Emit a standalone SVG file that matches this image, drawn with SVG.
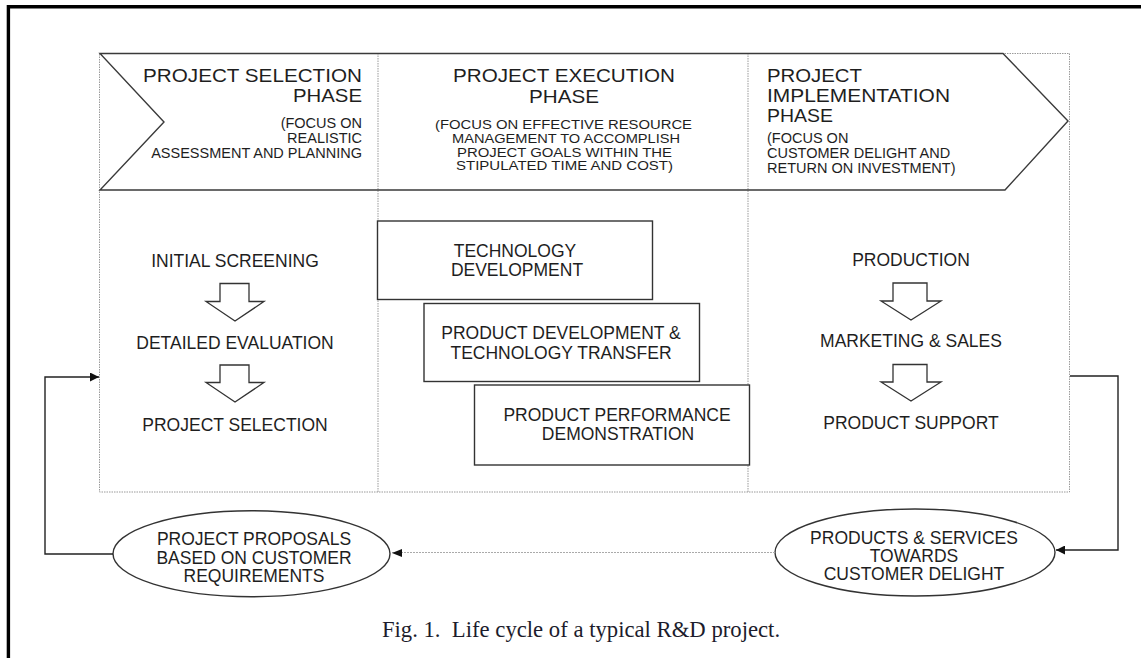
<svg xmlns="http://www.w3.org/2000/svg" width="1141" height="658" viewBox="0 0 1141 658">
<defs>
<style>
text{font-family:"Liberation Sans",Arial,sans-serif;fill:#1e1e1e}
.t{font-size:18.6px}
.s{font-size:14.5px}
.m{font-size:13.4px}
.b{font-size:17.5px}
.cap{font-family:"Liberation Serif","Times New Roman",serif;font-size:22.7px;fill:#1c1c2c}
.dot{fill:none;stroke:#9a9a9a;stroke-width:1;stroke-dasharray:1.5 1}
.box{fill:#fff;stroke:#333;stroke-width:1.4}
.blk{fill:#fff;stroke:#333;stroke-width:1.3;stroke-linejoin:miter}
.con{fill:none;stroke:#222;stroke-width:1.4}
.con2{fill:none;stroke:#aaa;stroke-width:1;stroke-dasharray:2 1}
</style>
<marker id="ah" viewBox="0 0 10 10" refX="10" refY="5" markerWidth="10" markerHeight="9" markerUnits="userSpaceOnUse" orient="auto">
<path d="M0 0 L10 5 L0 10 Z" fill="#111"/>
</marker>
</defs>
<rect width="1141" height="658" fill="#fff"/>
<path d="M8.4 658 V6.7 H1141" fill="none" stroke="#000" stroke-width="3.4"/>

<g id="frame">
<rect class="dot" x="99.5" y="53.5" width="970" height="438.5"/>
<line class="dot" x1="378" y1="53" x2="378" y2="492"/>
<line class="dot" x1="748" y1="53" x2="748" y2="492"/>
<polygon points="100,53.5 1003,53.5 1068,121 1005,190 100,190 164,122" fill="none" stroke="#3a3a3a" stroke-width="1.4"/>
</g>

<g id="header-selection">
<text class="t" x="143" y="82" textLength="219" lengthAdjust="spacingAndGlyphs">PROJECT SELECTION</text>
<text class="t" x="293" y="102" textLength="69" lengthAdjust="spacingAndGlyphs">PHASE</text>
<text class="s" x="362" y="128" text-anchor="end">(FOCUS ON</text>
<text class="s" x="362" y="143" text-anchor="end">REALISTIC</text>
<text class="s" x="362" y="158" text-anchor="end">ASSESSMENT AND PLANNING</text>
</g>

<g id="header-execution">
<text class="t" x="453" y="82" textLength="222" lengthAdjust="spacingAndGlyphs">PROJECT EXECUTION</text>
<text class="t" x="529" y="103" textLength="70" lengthAdjust="spacingAndGlyphs">PHASE</text>
<text class="m" x="435" y="129" textLength="257" lengthAdjust="spacingAndGlyphs">(FOCUS ON EFFECTIVE RESOURCE</text>
<text class="m" x="452" y="142.8" textLength="228" lengthAdjust="spacingAndGlyphs">MANAGEMENT TO ACCOMPLISH</text>
<text class="m" x="457" y="156.5" textLength="215" lengthAdjust="spacingAndGlyphs">PROJECT GOALS WITHIN THE</text>
<text class="m" x="456" y="170.3" textLength="217" lengthAdjust="spacingAndGlyphs">STIPULATED TIME AND COST)</text>
</g>

<g id="header-implementation">
<text class="t" x="767" y="82" textLength="95" lengthAdjust="spacingAndGlyphs">PROJECT</text>
<text class="t" x="767" y="102" textLength="183" lengthAdjust="spacingAndGlyphs">IMPLEMENTATION</text>
<text class="t" x="767" y="122" textLength="66" lengthAdjust="spacingAndGlyphs">PHASE</text>
<text class="s" x="767" y="143">(FOCUS ON</text>
<text class="s" x="767" y="158">CUSTOMER DELIGHT AND</text>
<text class="s" x="767" y="173">RETURN ON INVESTMENT)</text>
</g>

<g id="selection-steps">
<text class="b" x="235" y="267" text-anchor="middle">INITIAL SCREENING</text>
<polygon class="blk" points="220,283.5 249,283.5 249,301.5 264,301.5 235,321 206,301.5 220,301.5"/>
<text class="b" x="235" y="348.5" text-anchor="middle">DETAILED EVALUATION</text>
<polygon class="blk" points="220,365 249,365 249,382.5 264,382.5 235,402 206,382.5 220,382.5"/>
<text class="b" x="235" y="431" text-anchor="middle">PROJECT SELECTION</text>
</g>

<g id="execution-boxes">
<g id="tech-dev">
<rect class="box" x="377.5" y="221" width="275" height="78.5"/>
<text class="b" x="515" y="256.7" text-anchor="middle">TECHNOLOGY</text>
<text class="b" x="517" y="276" text-anchor="middle">DEVELOPMENT</text>
</g>
<g id="prod-dev">
<rect class="box" x="424" y="303.5" width="275.5" height="78"/>
<text class="b" x="561" y="339.3" text-anchor="middle">PRODUCT DEVELOPMENT &amp;</text>
<text class="b" x="561" y="358.5" text-anchor="middle">TECHNOLOGY TRANSFER</text>
</g>
<g id="prod-perf">
<rect class="box" x="474.5" y="385" width="275" height="80"/>
<text class="b" x="617" y="421" text-anchor="middle">PRODUCT PERFORMANCE</text>
<text class="b" x="618" y="440" text-anchor="middle">DEMONSTRATION</text>
</g>
</g>

<g id="implementation-steps">
<text class="b" x="911" y="266" text-anchor="middle">PRODUCTION</text>
<polygon class="blk" points="893,283 927,283 927,301 941,301 911,320 881,301 893,301"/>
<text class="b" x="911" y="347" text-anchor="middle">MARKETING &amp; SALES</text>
<polygon class="blk" points="893,364.5 927,364.5 927,382 941,382 911,401 881,382 893,382"/>
<text class="b" x="911" y="428.5" text-anchor="middle">PRODUCT SUPPORT</text>
</g>

<g id="proposals">
<ellipse class="box" cx="251.5" cy="553.7" rx="138.5" ry="43"/>
<text class="b" x="254" y="545" text-anchor="middle">PROJECT PROPOSALS</text>
<text class="b" x="254" y="563.5" text-anchor="middle">BASED ON CUSTOMER</text>
<text class="b" x="254" y="582" text-anchor="middle">REQUIREMENTS</text>
</g>

<g id="products">
<ellipse class="box" cx="915" cy="552.5" rx="140" ry="43.5"/>
<text class="b" x="914" y="544" text-anchor="middle">PRODUCTS &amp; SERVICES</text>
<text class="b" x="914" y="562" text-anchor="middle">TOWARDS</text>
<text class="b" x="914" y="580" text-anchor="middle">CUSTOMER DELIGHT</text>
</g>

<g id="connectors">
<path class="con" d="M1070 376 H1118 V550 H1056" marker-end="url(#ah)"/>
<path class="con" d="M113 554 H45 V377 H99" marker-end="url(#ah)"/>
<path class="con2" d="M775 552.5 H392"/>
<path d="M392 553 L402 549 L402 557 Z" fill="#111"/>
</g>

<text class="cap" x="581" y="637" text-anchor="middle" xml:space="preserve">Fig. 1.  Life cycle of a typical R&amp;D project.</text>
</svg>
